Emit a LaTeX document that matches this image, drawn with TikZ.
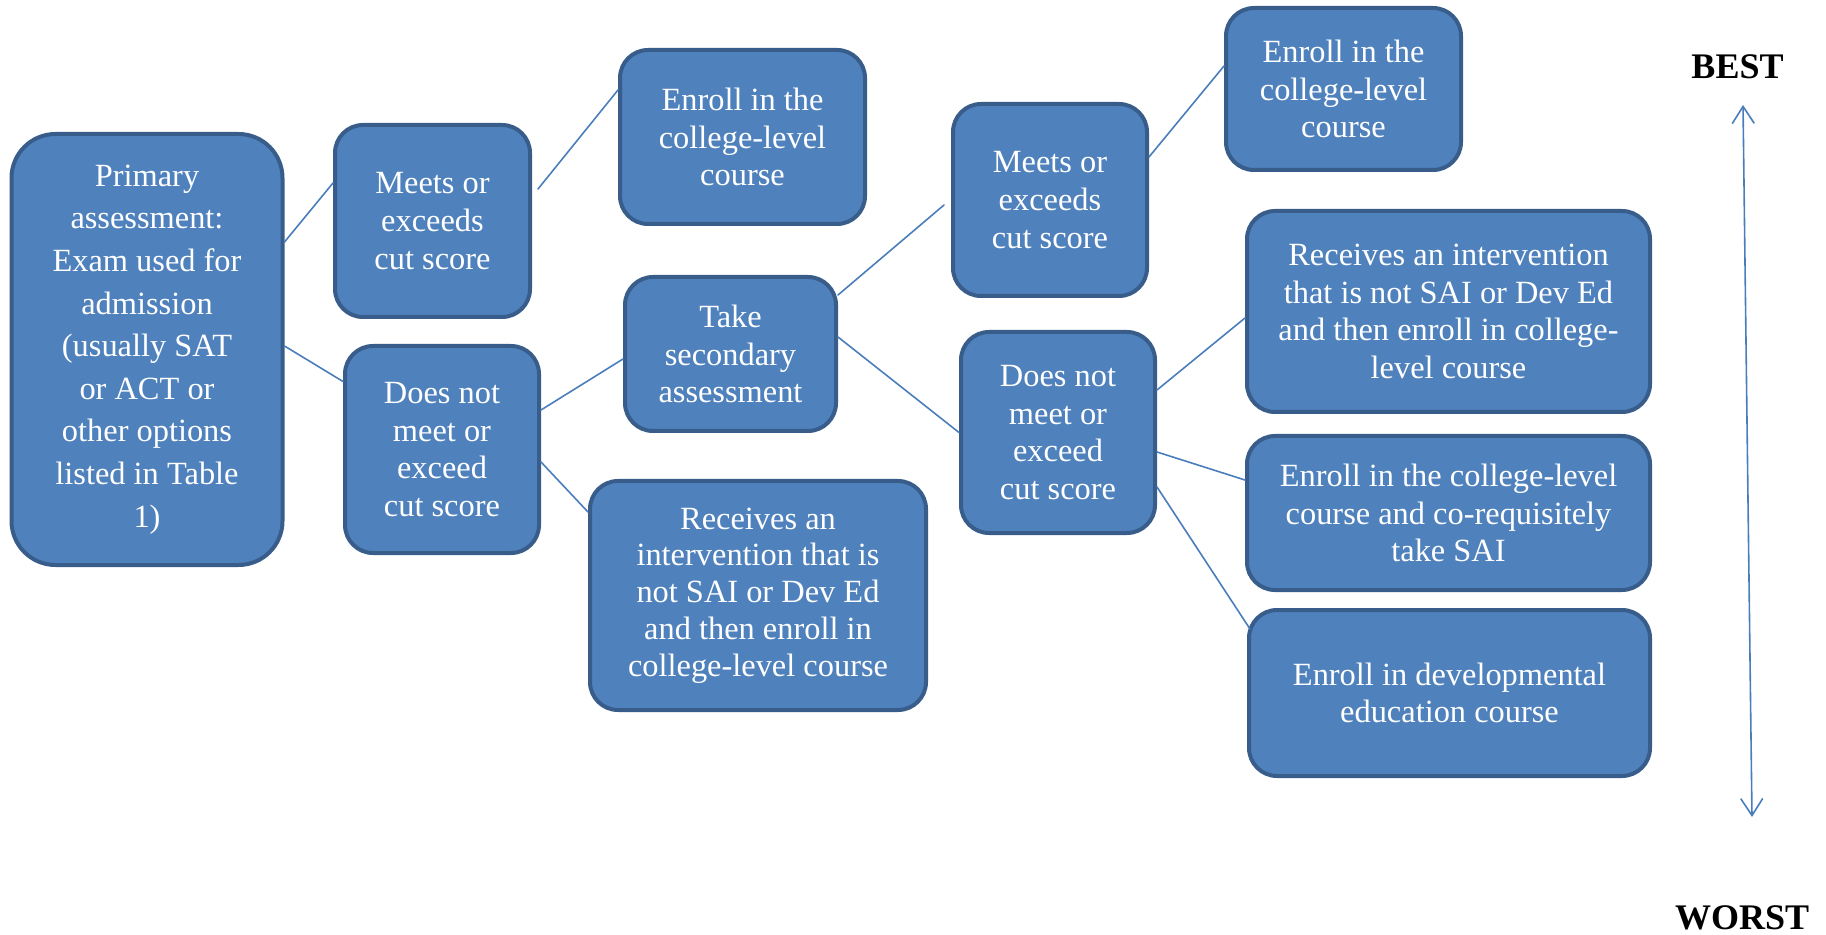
\documentclass[tikz,border=0pt]{standalone}
\usepackage{fontspec}
\setmainfont{Liberation Serif}
\usetikzlibrary{arrows.meta}
\definecolor{boxfill}{HTML}{4F81BD}
\definecolor{boxedge}{HTML}{385D8A}
\definecolor{linkblue}{HTML}{4A7EBB}
\begin{document}
\begin{tikzpicture}[x=0.5pt, y=-0.5pt, line cap=round, line join=round]
	\tikzset{stagebox/.style={draw=boxedge, fill=boxfill, line width=2pt, rounded corners=14pt, text=white, align=center, inner sep=0pt, font=\fontsize{16.2}{18.9}\selectfont},
		link/.style={draw=linkblue, line width=0.8pt},
		endlabel/.style={font=\fontsize{18}{20}\selectfont\bfseries}}
	\useasboundingbox (0,0) rectangle (1826,935);
	\node[stagebox, rounded corners=22pt, minimum width=135.5pt, minimum height=215.5pt, font=\fontsize{16.2}{21.3}\selectfont] (prim) at (147,349.5) {Primary\\assessment:\\Exam used for\\admission\\(usually SAT\\or ACT or\\other options\\listed in Table\\1)};
	\node[stagebox, minimum width=97.5pt, minimum height=96pt] (meets1) at (432.5,221) {Meets or\\exceeds\\cut score};
	\node[stagebox, minimum width=97pt, minimum height=103.5pt] (fails1) at (442,449.5) {Does not\\meet or\\exceed\\cut score};
	\node[stagebox, minimum width=122.5pt, minimum height=87pt] (enroll1) at (742.5,137) {Enroll in the\\college-level\\course};
	\node[stagebox, minimum width=105.5pt, minimum height=77pt] (second) at (730.5,354) {Take\\secondary\\assessment};
	\node[stagebox, minimum width=168pt, minimum height=114.5pt, font=\fontsize{16.2}{18.4}\selectfont] (interv1) at (758,595.5) {Receives an\\intervention that is\\not SAI or Dev Ed\\and then enroll in\\college-level course};
	\node[stagebox, minimum width=97pt, minimum height=96pt] (meets2) at (1050,200) {Meets or\\exceeds\\cut score};
	\node[stagebox, minimum width=117.5pt, minimum height=81pt] (enroll2) at (1343.5,89) {Enroll in the\\college-level\\course};
	\node[stagebox, minimum width=97pt, minimum height=100.5pt] (fails2) at (1058,432.5) {Does not\\meet or\\exceed\\cut score};
	\node[stagebox, minimum width=201.5pt, minimum height=100.5pt] (interv2) at (1448.5,311.5) {Receives an intervention\\that is not SAI or Dev Ed\\and then enroll in college-\\level course};
	\node[stagebox, minimum width=201.5pt, minimum height=77pt] (coreq) at (1448.5,513) {Enroll in the college-level\\course and co-requisitely\\take SAI};
	\node[stagebox, minimum width=200.5pt, minimum height=83pt] (devcourse) at (1449.5,693) {Enroll in developmental\\education course};
	\node[endlabel] (best) at (1737.5,67) {BEST};
	\node[endlabel] (worst) at (1742,918) {WORST};
	\coordinate (scaletop) at (1743,105);
	\coordinate (scalebot) at (1752,817);
	% connectors
	\draw[link] ([yshift=53.75pt]prim.east) -- ([yshift=19pt]meets1.west);
	\draw[link] ([yshift=1.75pt]prim.east) -- ([yshift=34pt]fails1.west);
	\draw[link] ([xshift=3pt,yshift=16pt]meets1.east) -- ([yshift=23.5pt]enroll1.west);
	\draw[link] ([yshift=19.75pt]fails1.east) -- ([yshift=-2.5pt]second.west);
	\draw[link] ([yshift=-6.25pt]fails1.east) -- ([yshift=41.75pt]interv1.west);
	\draw[link] ([yshift=29.5pt]second.east) -- ([xshift=-3.5pt,yshift=-2.5pt]meets2.west);
	\draw[link] ([yshift=8.5pt]second.east) -- (fails2.west);
	\draw[link] ([yshift=21.5pt]meets2.east) -- ([yshift=11.5pt]enroll2.west);
	\draw[link] ([yshift=21.25pt]fails2.east) -- ([yshift=-3.25pt]interv2.west);
	\draw[link] ([yshift=-9.75pt]fails2.east) -- ([yshift=16.5pt]coreq.west);
	\draw[link] ([yshift=-27.25pt]fails2.east) -- ([xshift=1.5pt,yshift=32pt]devcourse.west);
	% best to worst scale
	\draw[link, {Straight Barb[length=8.5pt,width=11pt]}-{Straight Barb[length=8.5pt,width=11pt]}] (scaletop) -- (scalebot);
\end{tikzpicture}
\end{document}
